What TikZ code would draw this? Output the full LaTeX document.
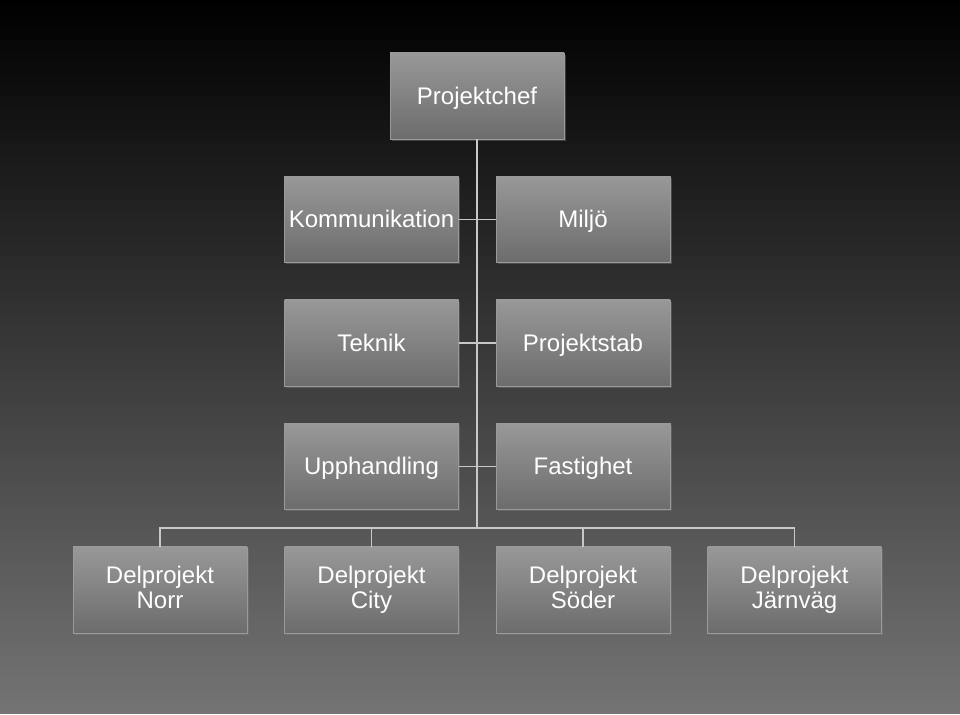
\documentclass[tikz,border=0pt]{standalone}
\usepackage{fontspec}
\setmainfont{Liberation Sans}
\usetikzlibrary{positioning,shadows}
\definecolor{boxtop}{HTML}{989898}
\definecolor{boxbot}{HTML}{6C6C6C}
\definecolor{boxline}{HTML}{9A9A9A}
\definecolor{wire}{HTML}{C8C8C8}
\definecolor{bgbot}{HTML}{747474}
\newcommand{\boxstrut}{\rule[-6pt]{0pt}{29pt}}
\newcommand{\boxstart}{\lineskiplimit=-50pt\relax\boxstrut}

\begin{document}
\begin{tikzpicture}[x=1pt,y=1pt,node distance=37pt and 37pt,
 every node/.style={font=\fontsize{24}{25}\selectfont,text=white},
 box/.style={draw=boxline,line width=0.5pt,top color=boxtop,bottom color=boxbot,align=center,
  minimum width=174pt,minimum height=86pt,inner sep=0pt,
  execute at begin node=\boxstart,execute at end node=\boxstrut,
  drop shadow={opacity=0.4,shadow xshift=1.5pt,shadow yshift=-2pt}},
 conn/.style={draw=wire,line width=1.3pt}]
\shade[top color=black,bottom color=bgbot] (0,0) rectangle (960,714);
\useasboundingbox (0,0) rectangle (960,714);
\node[box] (chef) at (477,618) {Projektchef};
\node[box,below=of chef,xshift=-105.5pt] (komm) {Kommunikation};
\node[box,right=of komm] (miljo) {Miljö};
\node[box,below=of komm] (teknik) {Teknik};
\node[box,right=of teknik] (stab) {Projektstab};
\node[box,below=of teknik] (upph) {Upphandling};
\node[box,right=of upph] (fast) {Fastighet};
\node[box,below=of upph] (city) {Delprojekt\\City};
\node[box,left=of city] (norr) {Delprojekt\\Norr};
\node[box,right=of city] (soder) {Delprojekt\\Söder};
\node[box,right=of soder] (jarn) {Delprojekt\\Järnväg};
\coordinate (hub) at (477,186);
\begin{scope}[on background layer/.try]
\draw[conn] (chef.south)--(hub);
\draw[conn] (komm.east)--(miljo.west);\draw[conn] (teknik.east)--(stab.west);
\draw[conn] (upph.east)--(fast.west);
\foreach \d in {norr,city,soder,jarn} \draw[conn] (hub) -| (\d.north);
\end{scope}
\end{tikzpicture}
\end{document}
